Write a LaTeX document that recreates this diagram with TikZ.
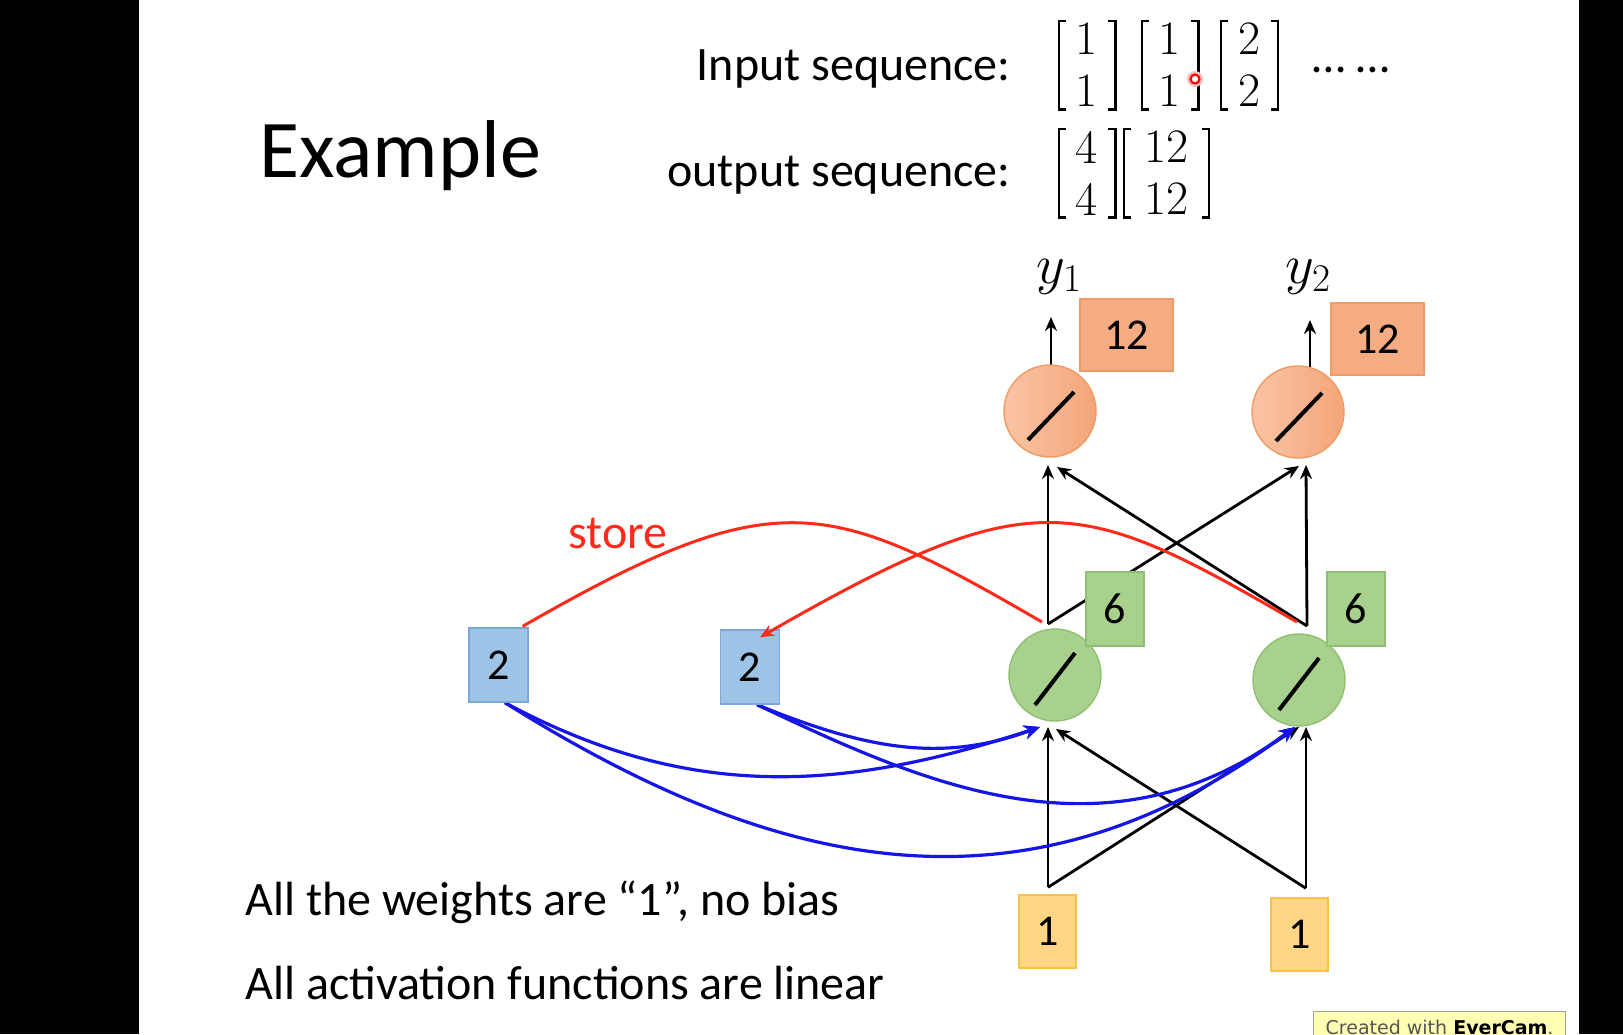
\RequirePackage{fix-cm}
\documentclass[tikz,border=0pt]{standalone}
\usepackage{amsmath}
\usepackage{fontspec}
\setmainfont{Carlito}
\newfontfamily\evfont{DejaVu Sans}
\newfontfamily\digfont{Latin Modern Roman}
\usetikzlibrary{arrows.meta,calc}
\definecolor{orfill}{HTML}{F6AC82}
\definecolor{ordraw}{HTML}{F19A62}
\definecolor{orlight}{HTML}{F9C4A5}
\definecolor{ordark}{HTML}{F4A579}
\definecolor{grfill}{HTML}{A9D18E}
\definecolor{grdraw}{HTML}{8FBF72}
\definecolor{blfill}{HTML}{9DC3E6}
\definecolor{bldraw}{HTML}{7BA7D6}
\definecolor{yefill}{HTML}{FFD685}
\definecolor{yedraw}{HTML}{F8C24A}
\definecolor{storered}{HTML}{FF2A1A}
\definecolor{wireblue}{HTML}{1515E8}
\definecolor{evfill}{HTML}{FFFFB3}
\definecolor{evdraw}{HTML}{A0A0A0}
\definecolor{evtext}{HTML}{555555}
\pgfdeclarelayer{bg}
\pgfdeclarelayer{lines}
\pgfsetlayers{bg,lines,main}
\tikzset{
  valbox/.style={rectangle, line width=0.7pt, inner sep=0pt, font=\fontsize{22}{26}\selectfont},
  orbox/.style={valbox, fill=orfill, draw=ordraw, minimum width=46.5pt, minimum height=36pt},
  grbox/.style={valbox, fill=grfill, draw=grdraw, minimum width=29pt, minimum height=37pt},
  blbox/.style={valbox, fill=blfill, draw=bldraw, minimum width=29.5pt, minimum height=37pt},
  yebox/.style={valbox, fill=yefill, draw=yedraw, minimum width=28.5pt, minimum height=36.5pt},
  orneuron/.style={circle, draw=ordraw, line width=0.7pt, left color=orlight, right color=ordark, minimum size=46pt, inner sep=0pt},
  grneuron/.style={circle, draw=grdraw, line width=0.7pt, fill=grfill, minimum size=46pt, inner sep=0pt},
  slash/.style={line width=2pt, black},
  blk/.style={line width=1.4pt, black, -{Stealth[length=7pt,width=6pt]}},
  storeline/.style={line width=1.5pt, storered},
  wire/.style={line width=1.6pt, wireblue, -{Stealth[length=8pt,width=7pt]}},
  txt/.style={inner sep=0pt, font=\fontsize{24}{29}\selectfont},
  vec/.style={inner sep=0pt, minimum height=44pt, align=center, font=\digfont\fontsize{24}{26}\selectfont},
  brk/.style={line width=1.1pt, black},
}
\newcommand{\vecbrackets}[1]{%
  \draw[brk] ($(#1.north west)+(7,0)$) -- (#1.north west) -- (#1.south west) -- ($(#1.south west)+(7,0)$);
  \draw[brk] ($(#1.north east)+(-7,0)$) -- (#1.north east) -- (#1.south east) -- ($(#1.south east)+(-7,0)$);}
\begin{document}
\begin{tikzpicture}[x=0.5pt, y=-0.5pt]
\useasboundingbox (0,0) rectangle (1623,1034);
\clip (0,0) rectangle (1623,1034);
\begin{pgfonlayer}{bg}
  \fill[black] (0,0) rectangle (139,1034);
  \fill[white] (139,0) rectangle (1579,1034);
  \fill[black] (1579,0) rectangle (1623,1034);
\end{pgfonlayer}

% texts
\node[txt, anchor=base west, font=\fontsize{41}{49}\selectfont] (title) at (259,177) {Example};
\node[txt, anchor=base east] (inlab) at (1011,80) {Input sequence:};
\node[txt, anchor=base east] (outlab) at (1011,186) {output sequence:};
\node[vec, minimum width=28pt] (m1) at (1087,65) {1\\1};
\node[vec, minimum width=28pt] (m2) at (1170,65) {1\\1};
\node[vec, minimum width=28pt] (m3) at (1249.5,65) {2\\2};
\node[vec, minimum width=28pt] (m4) at (1087,173) {4\\4};
\node[vec, minimum width=42pt] (m5) at (1166.5,173) {12\\12};
\vecbrackets{m1}
\vecbrackets{m2}
\vecbrackets{m3}
\vecbrackets{m4}
\vecbrackets{m5}
\node[txt, anchor=base west] (dots) at (1312,72) {\ldots\ \ldots};
\node[circle, fill=red!25, minimum size=8pt, inner sep=0pt] (halo) at (1195,79) {};
\node[circle, draw=red, fill=white, line width=1.1pt, minimum size=4.5pt, inner sep=0pt] (cursor) at (1195,79) {};

\node[txt, anchor=base west, font=\fontsize{28}{32}\selectfont] (ylab1) at (1036,283) {$y_1$};
\node[txt, anchor=base west, font=\fontsize{28}{32}\selectfont] (ylab2) at (1285,283) {$y_2$};
\node[txt, anchor=base west, text=storered] (store) at (568,548) {store};
\node[txt, anchor=base west] (note1) at (245,915) {All the weights are “1”, no bias};
\node[txt, anchor=base west] (note2) at (245,999) {All activation functions are linear};

% neurons and value boxes
\node[orneuron] (o1) at (1050,411) {};
\node[orneuron] (o2) at (1298,412) {};
\node[grneuron] (g1) at (1055,675) {};
\node[grneuron] (g2) at (1299,680) {};
\draw[slash] ($(o1)+(-22,29)$) -- ($(o1)+(24,-19)$);
\draw[slash] ($(o2)+(-22,29)$) -- ($(o2)+(24,-19)$);
\draw[slash] ($(g1)+(-20,30)$) -- ($(g1)+(20,-22)$);
\draw[slash] ($(g2)+(-20,30)$) -- ($(g2)+(20,-22)$);
\node[orbox] (v1) at (1126.5,335) {12};
\node[orbox] (v2) at (1377.5,339) {12};
\node[grbox] (h1) at (1115,609) {6};
\node[grbox] (h2) at (1356,609) {6};
\node[blbox] (b1) at (498.5,665) {2};
\node[blbox] (b2) at (750,667) {2};
\node[yebox] (x1) at (1047.5,931.5) {1};
\node[yebox] (x2) at (1299.5,934.5) {1};

% connection points
\coordinate (x1top) at ($(x1.north)+(0.5,-7)$);
\coordinate (x2top) at ($(x2.north)+(6.5,-9)$);
\coordinate (g1inv) at ($(g1.center)+(-7,52)$);
\coordinate (g1ind) at ($(g1.center)+(1,54)$);
\coordinate (g1inb) at ($(g1.center)+(-15,52)$);
\coordinate (g2inv) at ($(g2.center)+(7,47)$);
\coordinate (g2ind) at ($(g2.center)+(0,47)$);
\coordinate (g2inb) at ($(g2.center)+(-4,47)$);
\coordinate (g1out) at ($(g1.center)+(-7,-51)$);
\coordinate (g2out) at ($(g2.center)+(8,-54)$);
\coordinate (g1red) at ($(g1.center)+(-13,-53)$);
\coordinate (g2red) at ($(g2.center)+(-2,-58)$);
\coordinate (o1inv) at ($(o1.center)+(-2,54)$);
\coordinate (o1ind) at ($(o1.center)+(7,56)$);
\coordinate (o2inv) at ($(o2.center)+(8,53)$);
\coordinate (o2ind) at ($(o2.center)+(1,54)$);
\coordinate (o1top) at ($(o1.center)+(1,-45)$);
\coordinate (o2top) at ($(o2.center)+(12,-44)$);
\coordinate (y1arr) at ($(o1.center)+(1,-94)$);
\coordinate (y2arr) at ($(o2.center)+(12,-92)$);
\coordinate (b1tr) at ($(b1.north east)+(-6,-1)$);
\coordinate (b2top) at ($(b2.north)+(10,8)$);
\coordinate (b1bot) at ($(b1.south)+(6.5,0)$);
\coordinate (b2bot) at ($(b2.south)+(7,0)$);

\begin{pgfonlayer}{lines}
  \draw[blk] (x1top) -- (g1inv);
  \draw[blk] (x1top) -- (g2ind);
  \draw[blk] (x2top) -- (g2inv);
  \draw[blk] (x2top) -- (g1ind);
  \draw[blk] (g1out) -- (o1inv);
  \draw[blk] (g1out) -- (o2ind);
  \draw[blk] (g2out) -- (o2inv);
  \draw[blk] (g2out) -- (o1ind);
  \draw[blk] (o1top) -- (y1arr);
  \draw[blk] (o2top) -- (y2arr);
  \draw[wire] (b1bot) .. controls (686,800) and (839,793) .. (g1inb);
  \draw[wire] (b1bot) .. controls (758,861) and (1015,937) .. (g2inb);
  \draw[wire] (b2bot) .. controls (870,751) and (944,762) .. (g1inb);
  \draw[wire] (b2bot) .. controls (917,780) and (1105,869) .. (g2inb);
\end{pgfonlayer}

\draw[storeline] (g1red) .. controls (828,498) and (777,480) .. (b1tr);
\draw[storeline, -{Stealth[length=7pt,width=6pt]}] (g2red) .. controls (1079,496) and (1035,479) .. (b2top);

% recorder badge
\node[rectangle, draw=evdraw, fill=evfill, line width=0.6pt, anchor=north west,
      minimum width=126pt, minimum height=16pt, inner sep=0pt,
      font=\evfont\fontsize{9.5}{11}\selectfont, text=evtext] (ev) at (1313,1011)
      {Created with \textbf{\color{black}EverCam}.};
\end{tikzpicture}
\end{document}
